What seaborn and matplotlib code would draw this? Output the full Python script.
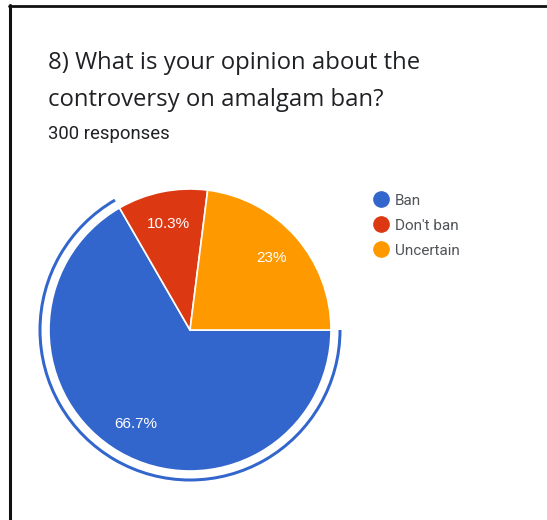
import matplotlib
matplotlib.use("Agg")
import matplotlib.pyplot as plt
import seaborn as sns
from matplotlib.patches import Wedge
from matplotlib.lines import Line2D

# ---- data ----
categories = ["Ban", "Don't ban", "Uncertain"]
responses = [200, 31, 69]
colors = ["#3366cc", "#dc3912", "#ff9900"]
title_lines = ["8) What is your opinion about the", "controversy on amalgam ban?"]
subtitle = "300 responses"

sns.set_theme(style="white")
plt.rcParams['font.family'] = ['Roboto', 'DejaVu Sans']
palette = sns.color_palette(colors)

W, H = 547, 520
fig = plt.figure(figsize=(W / 100, H / 100), dpi=100)
fig.patch.set_facecolor("white")
ax = fig.add_axes([0, 0, 1, 1])

cx, cy, r = 190, H - 330, 141


def fmt(p):
    s = f"{p:.1f}"
    if s.endswith(".0"):
        s = s[:-2]
    return s + "%"


wedges, texts, autotexts = ax.pie(
    responses, colors=palette, startangle=0, counterclock=False,
    center=(cx, cy), radius=r, autopct=fmt, pctdistance=0.77,
    wedgeprops=dict(edgecolor="white", linewidth=1.2),
    textprops=dict(color="white", fontsize=11,
                   family=['Liberation Sans', 'DejaVu Sans']),
)

# highlight ring around the largest slice
w0 = wedges[0]
ring = Wedge((cx, cy), r + 10.5, w0.theta1, w0.theta2, width=3,
             facecolor=colors[0], edgecolor="none")
ax.add_patch(ring)

ax.set_xlim(0, W)
ax.set_ylim(0, H)
ax.set_aspect("equal")
ax.axis("off")

# title
fig.text(48 / W, 1 - 69 / H, title_lines[0], fontsize=17.2, color="#202124",
         family=['Open Sans', 'DejaVu Sans'], va="baseline", ha="left")
fig.text(48 / W, 1 - 106 / H, title_lines[1], fontsize=17.2, color="#202124",
         family=['Open Sans', 'DejaVu Sans'], va="baseline", ha="left")
fig.text(48 / W, 1 - 139 / H, subtitle, fontsize=13.3, color="#202124",
         va="baseline", ha="left")

# legend
handles = [Line2D([0], [0], marker="o", linestyle="none", markersize=11,
                  markerfacecolor=c, markeredgecolor=c) for c in colors]
leg = ax.legend(handles, categories, loc="upper left",
                bbox_to_anchor=(364 / W, 1 - 186 / H), frameon=False,
                fontsize=11, handletextpad=0.3, labelspacing=0.72,
                handlelength=1.2, borderpad=0)
for t in leg.get_texts():
    t.set_color("#505357")

# frame lines (top and left)
fig.add_artist(Line2D([9 / W, 1], [1 - 6 / H, 1 - 6 / H], color="#111111", lw=2,
                      transform=fig.transFigure))
fig.add_artist(Line2D([10 / W, 10 / W], [1 - 5 / H, 0], color="#111111", lw=2.2,
                      transform=fig.transFigure))

fig.savefig("out.png", dpi=100, facecolor="white")
